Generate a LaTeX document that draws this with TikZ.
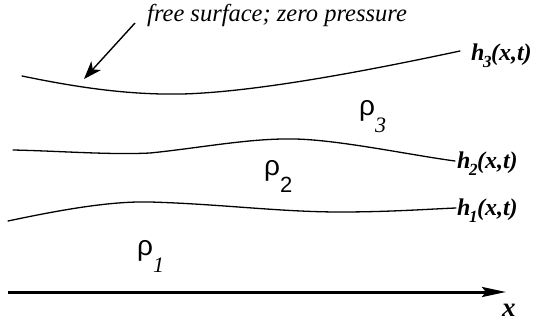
\documentclass[tikz,border=0pt]{standalone}
\usepackage{fontspec}
\setmainfont{Liberation Serif}
\newfontfamily\rhofont{Liberation Sans}
\usetikzlibrary{arrows.meta}
\tikzset{
  curve/.style={line width=1.3pt, line cap=round},
  lbl/.style={inner sep=0pt, anchor=base west, font=\fontsize{24}{25}\selectfont\bfseries\itshape},
  rholbl/.style={inner sep=0pt, anchor=base west},
  note/.style={inner sep=0pt, anchor=base west, font=\fontsize{24.5}{25}\selectfont\itshape},
}
\newcommand{\hlab}[1]{h\kern-1.5pt\raisebox{-7pt}{\fontsize{17}{17}\selectfont\itshape #1}\kern-0.5pt(x,t)}
\newcommand{\rhosz}{\fontsize{28}{28}\selectfont}
\begin{document}
\begin{tikzpicture}[x=1pt,y=-1pt]
\useasboundingbox (0,0) rectangle (536,324);
% curves
\draw[curve] (22,76) .. controls (80,88) and (130,95) .. (182,94)
  .. controls (260,92) and (380,68) .. (460,51) coordinate (h3end);
\draw[curve] (13,150) .. controls (60,151) and (110,155) .. (150,153)
  .. controls (200,148) and (250,138) .. (295,139)
  .. controls (340,140) and (410,155) .. (455,161) coordinate (h2end);
\draw[curve] (8,221) .. controls (60,210) and (110,201) .. (150,202)
  .. controls (220,204) and (280,212) .. (340,212)
  .. controls (390,212) and (430,209) .. (456,208) coordinate (h1end);
% labels
\node[lbl] (h3) at (471,60) {\hlab{3}};
\node[lbl] (h2) at (457,168) {\hlab{2}};
\node[lbl] (h1) at (457,215) {\hlab{1}};
\node[note] (fs) at (147,21) {free surface; zero pressure};
\coordinate (fsa) at (135,23);
\coordinate (fsb) at (84,79);
\draw[line width=1.4pt, -{Stealth[length=18pt,width=13pt,inset=5pt]}] (fsa) -- (fsb);
% rhos
\node[rholbl] (r3) at (359,115) {{\rhofont\rhosz ρ}\raisebox{-17pt}{\fontsize{22}{22}\selectfont\itshape 3}};
\node[rholbl] (r2) at (264,175) {{\rhofont\rhosz ρ}\raisebox{-17pt}{\rhofont\fontsize{22}{22}\selectfont 2}};
\node[rholbl] (r1) at (137,255) {{\rhofont\rhosz ρ}\raisebox{-17pt}{\fontsize{22}{22}\selectfont\itshape 1}};
% x axis
\coordinate (xa) at (8,292);
\coordinate (xb) at (506,292);
\draw[line width=3pt, -{Stealth[length=24pt,width=10pt,inset=4pt]}] (xa) -- (xb);
\node[lbl, font=\fontsize{27}{27}\selectfont\bfseries\itshape] (xl) at (502,316) {x};
\end{tikzpicture}
\end{document}
